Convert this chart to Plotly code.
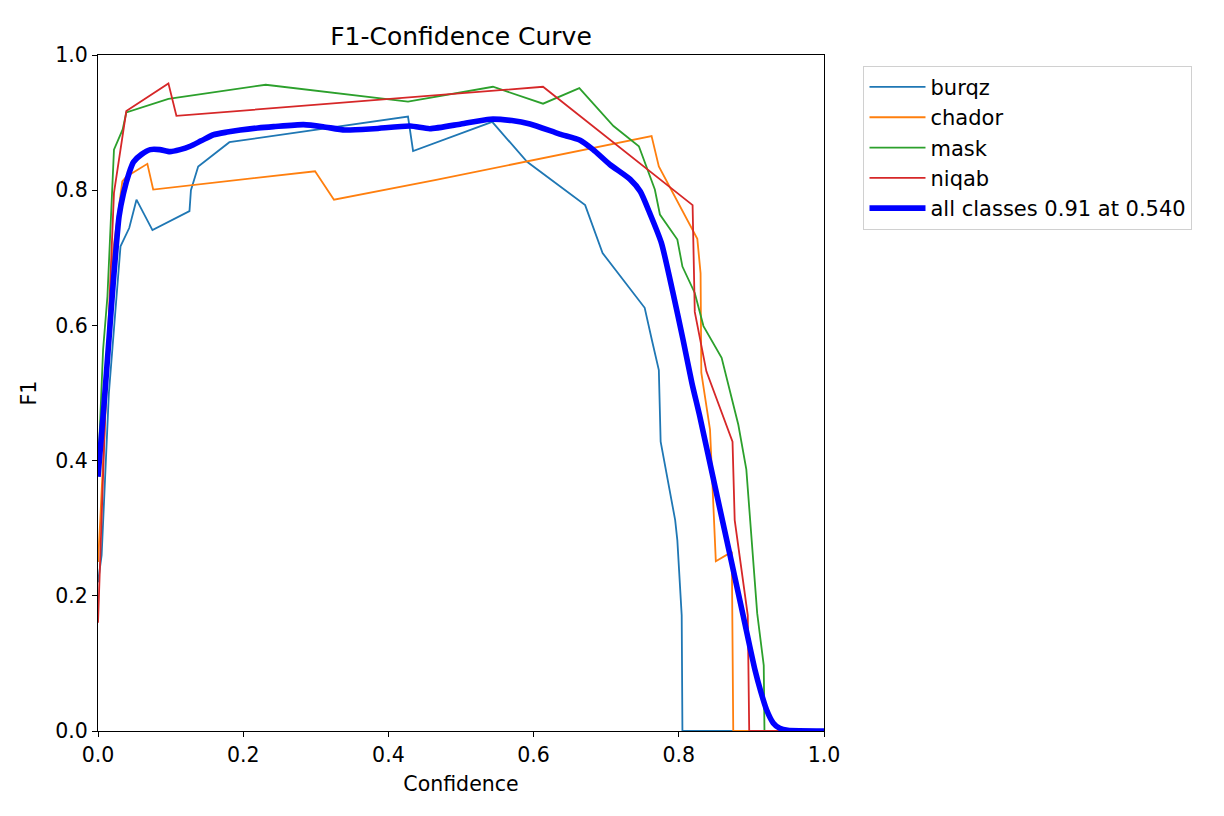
import plotly.graph_objects as go

# ---- data ----
burqz_x = [0.000, 0.005, 0.015, 0.031, 0.043, 0.053, 0.075, 0.126, 0.128, 0.138, 0.181,
           0.427, 0.434, 0.543, 0.591, 0.636, 0.671, 0.695, 0.753, 0.763, 0.7725, 0.775,
           0.795, 0.798, 0.804, 0.805, 1.000]
burqz_y = [0.22, 0.26, 0.50, 0.717, 0.744, 0.786, 0.741, 0.769, 0.800, 0.835, 0.871,
           0.909, 0.858, 0.901, 0.842, 0.806, 0.778, 0.707, 0.626, 0.578, 0.534, 0.428,
           0.312, 0.282, 0.171, 0.0, 0.0]

chador_x = [0.000, 0.003, 0.021, 0.0335, 0.039, 0.068, 0.076, 0.299, 0.325, 0.464, 0.7625,
            0.7725, 0.8255, 0.830, 0.831, 0.843, 0.851, 0.873, 0.875, 1.000]
chador_y = [0.25, 0.31, 0.712, 0.813, 0.820, 0.839, 0.801, 0.828, 0.786, 0.815, 0.880,
            0.835, 0.728, 0.677, 0.530, 0.446, 0.251, 0.265, 0.0, 0.0]

mask_x = [0.000, 0.007, 0.013, 0.019, 0.022, 0.034, 0.039, 0.097, 0.231, 0.427, 0.544,
          0.613, 0.663, 0.710, 0.745, 0.767, 0.774, 0.798, 0.805, 0.822, 0.834, 0.859,
          0.882, 0.893, 0.899, 0.908, 0.917, 0.918, 1.000]
mask_y = [0.38, 0.564, 0.643, 0.786, 0.860, 0.890, 0.915, 0.935, 0.956, 0.931, 0.953,
          0.928, 0.951, 0.895, 0.865, 0.801, 0.764, 0.727, 0.687, 0.648, 0.599, 0.552,
          0.453, 0.387, 0.307, 0.174, 0.097, 0.0, 0.0]

niqab_x = [0.000, 0.013, 0.022, 0.031, 0.039, 0.097, 0.108, 0.613, 0.819, 0.822, 0.838,
           0.874, 0.877, 0.895, 0.897, 1.000]
niqab_y = [0.16, 0.564, 0.796, 0.860, 0.917, 0.958, 0.910, 0.953, 0.778, 0.620, 0.532,
           0.428, 0.312, 0.171, 0.0, 0.0]

all_x = [0.000, 0.008, 0.015, 0.021, 0.029, 0.035, 0.043, 0.049, 0.060, 0.072, 0.085, 0.099,
         0.113, 0.127, 0.142, 0.159, 0.178, 0.196, 0.220, 0.242, 0.283, 0.310, 0.340,
         0.380, 0.430, 0.457, 0.500, 0.540, 0.570, 0.595, 0.636, 0.664, 0.682, 0.705,
         0.733, 0.747, 0.760, 0.776, 0.792, 0.806, 0.818, 0.829, 0.850, 0.871, 0.889,
         0.905, 0.913, 0.921, 0.930, 0.939, 0.950, 1.000]
all_y = [0.376, 0.479, 0.578, 0.663, 0.761, 0.795, 0.826, 0.842, 0.853, 0.860, 0.860, 0.857,
         0.860, 0.865, 0.873, 0.882, 0.886, 0.889, 0.892, 0.894, 0.897, 0.894, 0.889,
         0.891, 0.895, 0.891, 0.898, 0.905, 0.903, 0.898, 0.883, 0.874, 0.860, 0.838,
         0.816, 0.798, 0.766, 0.722, 0.648, 0.578, 0.515, 0.465, 0.361, 0.258, 0.169,
         0.090, 0.058, 0.031, 0.012, 0.004, 0.001, 0.0]

class_names = ["burqz", "chador", "mask", "niqab"]
all_label = "all classes 0.91 at 0.540"
x_ticks = [0.0, 0.2, 0.4, 0.6, 0.8, 1.0]
y_ticks = [0.0, 0.2, 0.4, 0.6, 0.8, 1.0]

colors = ["#1f77b4", "#ff7f0e", "#2ca02c", "#d62728"]
series = [(burqz_x, burqz_y), (chador_x, chador_y), (mask_x, mask_y), (niqab_x, niqab_y)]

FONT = "DejaVu Sans"
fig = go.Figure()
for name, (xs, ys), c in zip(class_names, series, colors):
    fig.add_trace(go.Scatter(x=xs, y=ys, mode="lines", name=name,
                             line=dict(color=c, width=1.8)))
fig.add_trace(go.Scatter(x=all_x, y=all_y, mode="lines", name=all_label,
                         line=dict(color="blue", width=5.6, shape="spline", smoothing=0.6)))

axis_common = dict(range=[0, 1], showgrid=False, zeroline=False, showline=True,
                   linecolor="black", linewidth=1.3, mirror=True, ticks="outside",
                   ticklen=5, tickwidth=1.3, tickcolor="black", tickformat=".1f",
                   tickfont=dict(family=FONT, size=20.5, color="black"))
fig.update_xaxes(**axis_common, tickvals=x_ticks,
                 title=dict(text="Confidence", font=dict(family=FONT, size=20.5, color="black"),
                            standoff=10))
fig.update_yaxes(**axis_common, tickvals=y_ticks, ticklabelstandoff=0,
                 title=dict(text="F1", font=dict(family=FONT, size=20.5, color="black"),
                            standoff=12))

# the page has an 8px body margin, so the figure is 1216x808 placed at (8, 8)
fig.update_layout(
    width=1216, height=808,
    margin=dict(l=90, r=400, t=47, b=85),
    paper_bgcolor="white", plot_bgcolor="white",
    font=dict(family=FONT, size=20.5, color="black"),
    title=dict(text="F1-Confidence Curve", x=0.5, xref="paper", xanchor="center",
               y=1 - 28 / 808, yref="container", yanchor="middle",
               font=dict(family=FONT, size=25, color="black")),
    legend=dict(x=1.0544, y=0.984, xanchor="left", yanchor="top",
                bordercolor="#d0d0d0", borderwidth=1, bgcolor="white",
                itemwidth=56,
                font=dict(family=FONT, size=21, color="black")),
    showlegend=True,
)

fig.write_html("out.html")
